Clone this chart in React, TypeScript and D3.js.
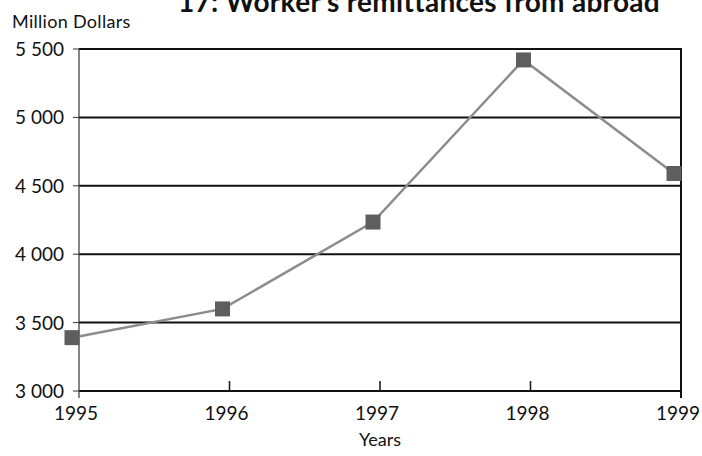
import React from 'react';
import * as d3 from 'd3';

const years = [1995, 1996, 1997, 1998, 1999];
const remittances = [3390, 3600, 4235, 5420, 4590];
const yTicks = [3000, 3500, 4000, 4500, 5000, 5500];
const yTickLabels = ['3 000', '3 500', '4 000', '4 500', '5 000', '5 500'];

const W = 702;
const H = 456;
const font = 'Lato, "Noto Sans", sans-serif';

const App = () => {
  const x = d3.scaleLinear().domain([1995, 1999]).range([79, 681]);
  const y = d3.scaleLinear().domain([3000, 5500]).range([391, 49]);
  // markers in the scan sit a little left of their ticks
  const dx = -7;

  const line = d3
    .line<number>()
    .x((d, i) => x(years[i]) + dx)
    .y((d) => y(d));

  return (
    <svg width={W} height={H} style={{ position: 'absolute', left: 0, top: 0, background: 'white' }}>
      <text x={419} y={12} textAnchor="middle" fontFamily={font} fontWeight="bold" fontSize={28} fill="#111" letterSpacing={0.3}>
        17: Worker's remittances from abroad
      </text>
      <text x={12} y={28} fontFamily={font} fontSize={18} fill="#111" letterSpacing={0.3}>
        Million Dollars
      </text>

      {/* horizontal grid */}
      {yTicks.map((t, i) => (
        <g key={t}>
          <line x1={x(1995)} x2={x(1999)} y1={y(t)} y2={y(t)} stroke="#111" strokeWidth={2} />
          <line x1={x(1995) - 6} x2={x(1995)} y1={y(t)} y2={y(t)} stroke="#333" strokeWidth={1} />
          <text x={x(1995) - 15} y={y(t) + 7} textAnchor="end" fontFamily={font} fontSize={19} fill="#111">
            {yTickLabels[i]}
          </text>
        </g>
      ))}

      {/* axes frame */}
      <line x1={x(1995)} x2={x(1995)} y1={y(5500)} y2={y(3000) + 7} stroke="#333" strokeWidth={1.2} />
      <line x1={x(1999)} x2={x(1999)} y1={y(5500) - 1} y2={y(3000) + 7} stroke="#111" strokeWidth={2} />

      {years.map((yr) => (
        <g key={yr}>
          {yr > 1995 && yr < 1999 && (
            <line x1={x(yr)} x2={x(yr)} y1={y(3000) - 10} y2={y(3000) + 1} stroke="#111" strokeWidth={1.5} />
          )}
          <text x={x(yr) - 3} y={420} textAnchor="middle" fontFamily={font} fontSize={19} fill="#111">
            {yr}
          </text>
        </g>
      ))}

      <text x={380} y={446} textAnchor="middle" fontFamily={font} fontSize={18} fill="#111">
        Years
      </text>

      <path d={line(remittances) || ''} fill="none" stroke="#8c8c8c" strokeWidth={2.5} />
      {remittances.map((v, i) => (
        <rect
          key={years[i]}
          x={x(years[i]) + dx - 7.5}
          y={y(v) - 7.5}
          width={15}
          height={15}
          fill="#5e5e5e"
        />
      ))}
    </svg>
  );
};

export default App;
